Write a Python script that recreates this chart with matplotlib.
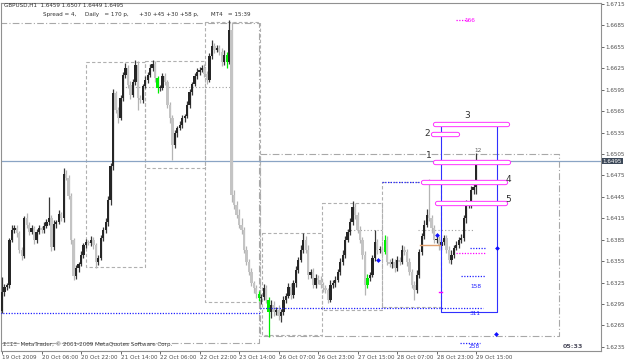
import matplotlib
matplotlib.use('Agg')
import matplotlib.pyplot as plt
import numpy as np

# GBPUSD H1, 19 Oct 14:00 .. 29 Oct 15:00 (prices as pips, 6312 -> 1.6312)
first_open = 6285
close_pips = [
    6312, 6319, 6322, 6385, 6399, 6401, 6394, 6371, 6362, 6415,
    6406, 6396, 6401, 6385, 6396, 6401, 6399, 6404, 6410, 6415,
    6375, 6407, 6410, 6421, 6415, 6477, 6471, 6446, 6385, 6334,
    6345, 6351, 6364, 6378, 6382, 6380, 6385, 6378, 6354, 6359,
    6387, 6399, 6410, 6441, 6488, 6590, 6567, 6555, 6583, 6616,
    6625, 6602, 6588, 6606, 6630, 6583, 6581, 6600, 6609, 6616,
    6625, 6631, 6611, 6597, 6597, 6614, 6606, 6574, 6555, 6518,
    6534, 6541, 6546, 6555, 6558, 6574, 6592, 6603, 6614, 6620,
    6623, 6625, 6617, 6609, 6642, 6656, 6651, 6653, 6648, 6634,
    6644, 6634, 6679, 6448, 6434, 6420, 6406, 6399, 6371, 6354,
    6340, 6324, 6317, 6309, 6303, 6305, 6317, 6301, 6284, 6294,
    6284, 6287, 6278, 6284, 6301, 6306, 6319, 6308, 6324, 6343,
    6357, 6371, 6385, 6371, 6336, 6340, 6322, 6331, 6329, 6322,
    6317, 6315, 6301, 6322, 6324, 6329, 6340, 6354, 6364, 6385,
    6396, 6410, 6431, 6420, 6399, 6385, 6364, 6322, 6331, 6336,
    6359, 6382, 6371, 6371, 6368, 6385, 6354, 6351, 6354, 6345,
    6357, 6354, 6371, 6368, 6354, 6340, 6322, 6315, 6336, 6368,
    6390, 6406, 6420, 6415, 6401, 6385, 6385, 6376, 6382, 6387,
    6371, 6357, 6364, 6373, 6378, 6385, 6387, 6415, 6434, 6434,
    6455, 6459, 6495]
upper_wick = [
    21, 4, 3, 3, 6, 4, 5, 3, 4, 3,
    8, 4, 5, 3, 4, 5, 3, 6, 4, 30,
    4, 5, 3, 6, 3, 8, 6, 4, 5, 3,
    4, 3, 5, 3, 4, 3, 5, 4, 3, 4,
    5, 4, 6, 5, 4, 6, 3, 4, 5, 4,
    8, 4, 5, 4, 6, 5, 4, 3, 5, 4,
    6, 5, 4, 3, 4, 5, 4, 3, 4, 5,
    4, 3, 5, 4, 3, 5, 4, 3, 4, 5,
    4, 5, 6, 4, 5, 8, 4, 5, 4, 5,
    6, 4, 14, 11, 6, 5, 8, 10, 4, 5,
    4, 6, 3, 5, 4, 4, 6, 5, 4, 6,
    5, 4, 6, 4, 5, 4, 6, 5, 4, 5,
    4, 6, 10, 5, 6, 4, 5, 6, 4, 5,
    4, 5, 3, 6, 4, 5, 4, 5, 6, 5,
    4, 6, 8, 5, 4, 5, 4, 5, 6, 4,
    5, 17, 4, 5, 4, 6, 5, 4, 5, 4,
    5, 4, 6, 5, 4, 5, 4, 5, 6, 4,
    5, 6, 8, 50, 5, 4, 6, 5, 4, 5,
    4, 5, 6, 4, 5, 4, 6, 5, 6, 4,
    5, 4, 12]
lower_wick = [
    3, 6, 4, 5, 3, 4, 5, 4, 6, 3,
    4, 5, 3, 6, 4, 3, 5, 4, 3, 4,
    6, 4, 5, 3, 4, 5, 3, 4, 6, 5,
    4, 5, 3, 4, 5, 3, 4, 6, 8, 4,
    3, 4, 5, 6, 8, 5, 4, 6, 3, 4,
    4, 5, 6, 3, 4, 16, 5, 4, 3, 4,
    3, 4, 5, 6, 4, 3, 5, 4, 6, 21,
    4, 5, 3, 4, 5, 3, 4, 5, 3, 4,
    5, 3, 4, 6, 3, 4, 5, 3, 4, 6,
    4, 8, 3, 10, 6, 5, 4, 6, 5, 4,
    5, 4, 6, 5, 4, 8, 4, 5, 35, 8,
    6, 4, 5, 8, 4, 5, 3, 6, 4, 5,
    4, 3, 5, 4, 6, 5, 4, 5, 6, 4,
    5, 4, 5, 3, 4, 5, 3, 4, 5, 4,
    3, 4, 5, 6, 4, 5, 6, 14, 5, 4,
    3, 4, 6, 5, 4, 3, 5, 4, 6, 5,
    4, 5, 3, 4, 6, 5, 4, 14, 5, 4,
    5, 4, 3, 4, 6, 5, 4, 6, 5, 4,
    5, 4, 6, 5, 3, 4, 5, 4, 6, 5,
    4, 6, 10]
green_bars = [63, 91, 104, 108, 148, 155]

time_labels = ['19 Oct 2009', '20 Oct 06:00', '20 Oct 22:00', '21 Oct 14:00',
               '22 Oct 06:00', '22 Oct 22:00', '23 Oct 14:00', '26 Oct 07:00',
               '26 Oct 23:00', '27 Oct 15:00', '28 Oct 07:00', '28 Oct 23:00',
               '29 Oct 15:00']
price_ticks = [1.6715, 1.6685, 1.6655, 1.6625, 1.6595, 1.6565, 1.6535, 1.6505,
               1.6475, 1.6445, 1.6415, 1.6385, 1.6355, 1.6325, 1.6295, 1.6265, 1.6235]
bid = 1.6495

# indicator objects: (bar from, bar to, high, low)
week_boxes = [(-0.8, 104.1, 1.66884, 1.62404), (104.5, 225.6, 1.6505, 1.62502)]
day_boxes = [(34.0, 57.9, 1.66338, 1.63468), (57.9, 82.2, 1.66352, 1.64854),
             (82.2, 104.5, 1.66898, 1.62978), (105.3, 129.6, 1.63944, 1.62516),
             (129.6, 153.9, 1.64364, 1.62866), (153.9, 177.8, 1.64658, 1.62908)]
today_box = (177.8, 200.5, 1.6547, 1.62838)
# (bar from, bar to, price)
blue_levels = [(-0.8, 104.5, 1.62824), (104.5, 194.8, 1.62894), (153.9, 200.5, 1.64658),
               (185.5, 193.6, 1.62404), (185.9, 195.6, 1.63342), (189.6, 195.6, 1.63734)]
pink_levels = [(183.9, 195.6, 1.63664), (183.9, 188.7, 1.66926)]
grey_levels = [(48.6, 92.3, 1.65988), (139.7, 153.9, 1.63986), (168.5, 190.8, 1.63986)]
red_levels = [(176.6, 200.5, 1.64371), (186.3, 194.8, 1.64644)]
# magenta pills: (bar from, bar to, price, label, label bar, label price)
pills = [(175.4, 204.9, 1.64945, '1', 172.9, 1.65036),
         (174.6, 184.3, 1.65337, '2', 172.4, 1.65344),
         (175.4, 204.5, 1.6547, '3', 188.3, 1.65596),
         (170.5, 203.7, 1.64665, '4', 205.2, 1.6470),
         (176.2, 203.7, 1.64371, '5', 205.2, 1.64406)]
blue_dots = [(152.3, 1.63566), (176.2, 1.63916), (200.5, 1.63734), (200.0, 1.6253)]
small_labels = [(192.8, 1.65106, '12', '#606060'), (189.6, 1.66926, '166', '#ff00ff'),
                (191.6, 1.6281, '311', '#2020ff'), (191.2, 1.62348, '258', '#2020ff'),
                (192.0, 1.6320, '158', '#2020ff')]

closes = 1 + np.array(close_pips) / 10000.0
opens = np.concatenate([[1 + first_open / 10000.0], closes[:-1]])
highs = np.maximum(opens, closes) + np.array(upper_wick) / 10000.0
lows = np.minimum(opens, closes) - np.array(lower_wick) / 10000.0
idx = np.arange(len(closes))

fig = plt.figure(figsize=(6.25, 3.61), dpi=100)
fig.patch.set_facecolor('white')
ax = fig.add_axes([1 / 625, 10 / 361, 600 / 625, 348 / 361])
ax.set_xlim(-0.405, 242.6)
ax.set_ylim(1.62292, 1.67164)

# candles
up = closes >= opens
body_col = np.where(up, '#262626', '#c4c4c4')
wick_col = np.where(up, '#383838', '#b4b4b4')
for g in green_bars:
    body_col[g] = '#00ee00'
    wick_col[g] = '#00ee00'
ax.vlines(idx, lows, highs, colors=wick_col, lw=0.9, zorder=3)
bh = np.maximum(np.abs(closes - opens), 0.00012)
ax.bar(idx, bh, bottom=np.minimum(opens, closes), width=0.95, color=body_col,
       linewidth=0, zorder=4)

# boxes
def box(b, **kw):
    x0, x1, hi, lo = b
    ax.plot([x0, x1, x1, x0, x0], [hi, hi, lo, lo, hi], **kw)

for b in week_boxes:
    box(b, color='#a8a8a8', lw=0.8, ls=(0, (6, 2, 1, 2)), zorder=2)
for b in day_boxes:
    box(b, color='#b0b0b0', lw=0.8, ls=(0, (3, 2)), zorder=2)
box(today_box, color='#3030ff', lw=0.8, zorder=5)

ax.axhline(bid, color='#8aa4c4', lw=0.9, zorder=2)

for x0, x1, p in blue_levels:
    ax.plot([x0, x1], [p, p], color='#2020ff', lw=0.9, ls=(0, (1, 1.2)), zorder=5)
for x0, x1, p in pink_levels:
    ax.plot([x0, x1], [p, p], color='#ff00ff', lw=0.9, ls=(0, (1, 1.2)), zorder=5)
for x0, x1, p in grey_levels:
    ax.plot([x0, x1], [p, p], color='#a0a0a0', lw=0.8, ls=(0, (1, 2)), zorder=2)
for x0, x1, p in red_levels:
    ax.plot([x0, x1], [p, p], color='#ff2020', lw=0.9, zorder=6)
ax.plot([169.3, 177.4], [1.63776, 1.63776], color='#e0a070', lw=1.0, zorder=6)
ax.plot([176.8, 178.2], [1.63118, 1.63118], color='#ff00ff', lw=1.0, zorder=6)

for x0, x1, p, lab, lx, ly in pills:
    ax.plot([x0, x1], [p, p], color='#ff30ff', lw=3.8, solid_capstyle='round', zorder=7)
    ax.plot([x0, x1], [p, p], color='white', lw=2.4, solid_capstyle='round', zorder=8)
    ax.text(lx, ly, lab, fontsize=6.5, color='#303030', ha='center', va='center', zorder=9)

ax.scatter([d[0] for d in blue_dots], [d[1] for d in blue_dots], marker='D', s=6,
           color='#1010ff', zorder=9, linewidths=0)
for x, y, t, c in small_labels:
    ax.text(x, y, t, fontsize=4.2, color=c, ha='center', va='center', zorder=9)

# axes styling
for s in ax.spines.values():
    s.set_color('#909090')
    s.set_linewidth(0.8)
ax.yaxis.tick_right()
ax.set_yticks(price_ticks)
ax.set_yticklabels(['%.4f' % p for p in price_ticks])
ax.set_xticks(np.arange(0, 193, 16))
ax.set_xticklabels(time_labels)
ax.tick_params(axis='both', labelsize=4.1, colors='#505050', length=2, width=0.6, pad=1.2)
for lb in ax.get_xticklabels():
    lb.set_horizontalalignment('left')
ax.text(1.003, bid, '%.4f' % bid, transform=ax.get_yaxis_transform(), fontsize=4.1,
        color='white', va='center', ha='left',
        bbox=dict(boxstyle='square,pad=0.15', fc='#3c4858', ec='none'), zorder=10)

fig.text(4 / 625, 1 - 3 / 361, 'GBPUSD,H1  1.6459 1.6507 1.6449 1.6495', fontsize=4.1,
         color='#303030', va='top')
fig.text(43 / 625, 1 - 12 / 361,
         'Spread = 4,     Daily   = 170 p,      +30 +45 +30 +58 p,       MT4   = 15:39',
         fontsize=4.1, color='#303030', va='top')
fig.text(3 / 625, 1 - 344 / 361, 'ΣΞΣΞ  MetaTrader, © 2001-2009 MetaQuotes Software Corp.',
         fontsize=4.1, color='#404040', va='center')
fig.text(563 / 625, 1 - 346 / 361, '05:33', fontsize=4.6, color='#505060',
         fontweight='bold', va='center')

fig.savefig('out.png', dpi=100, facecolor='white')
